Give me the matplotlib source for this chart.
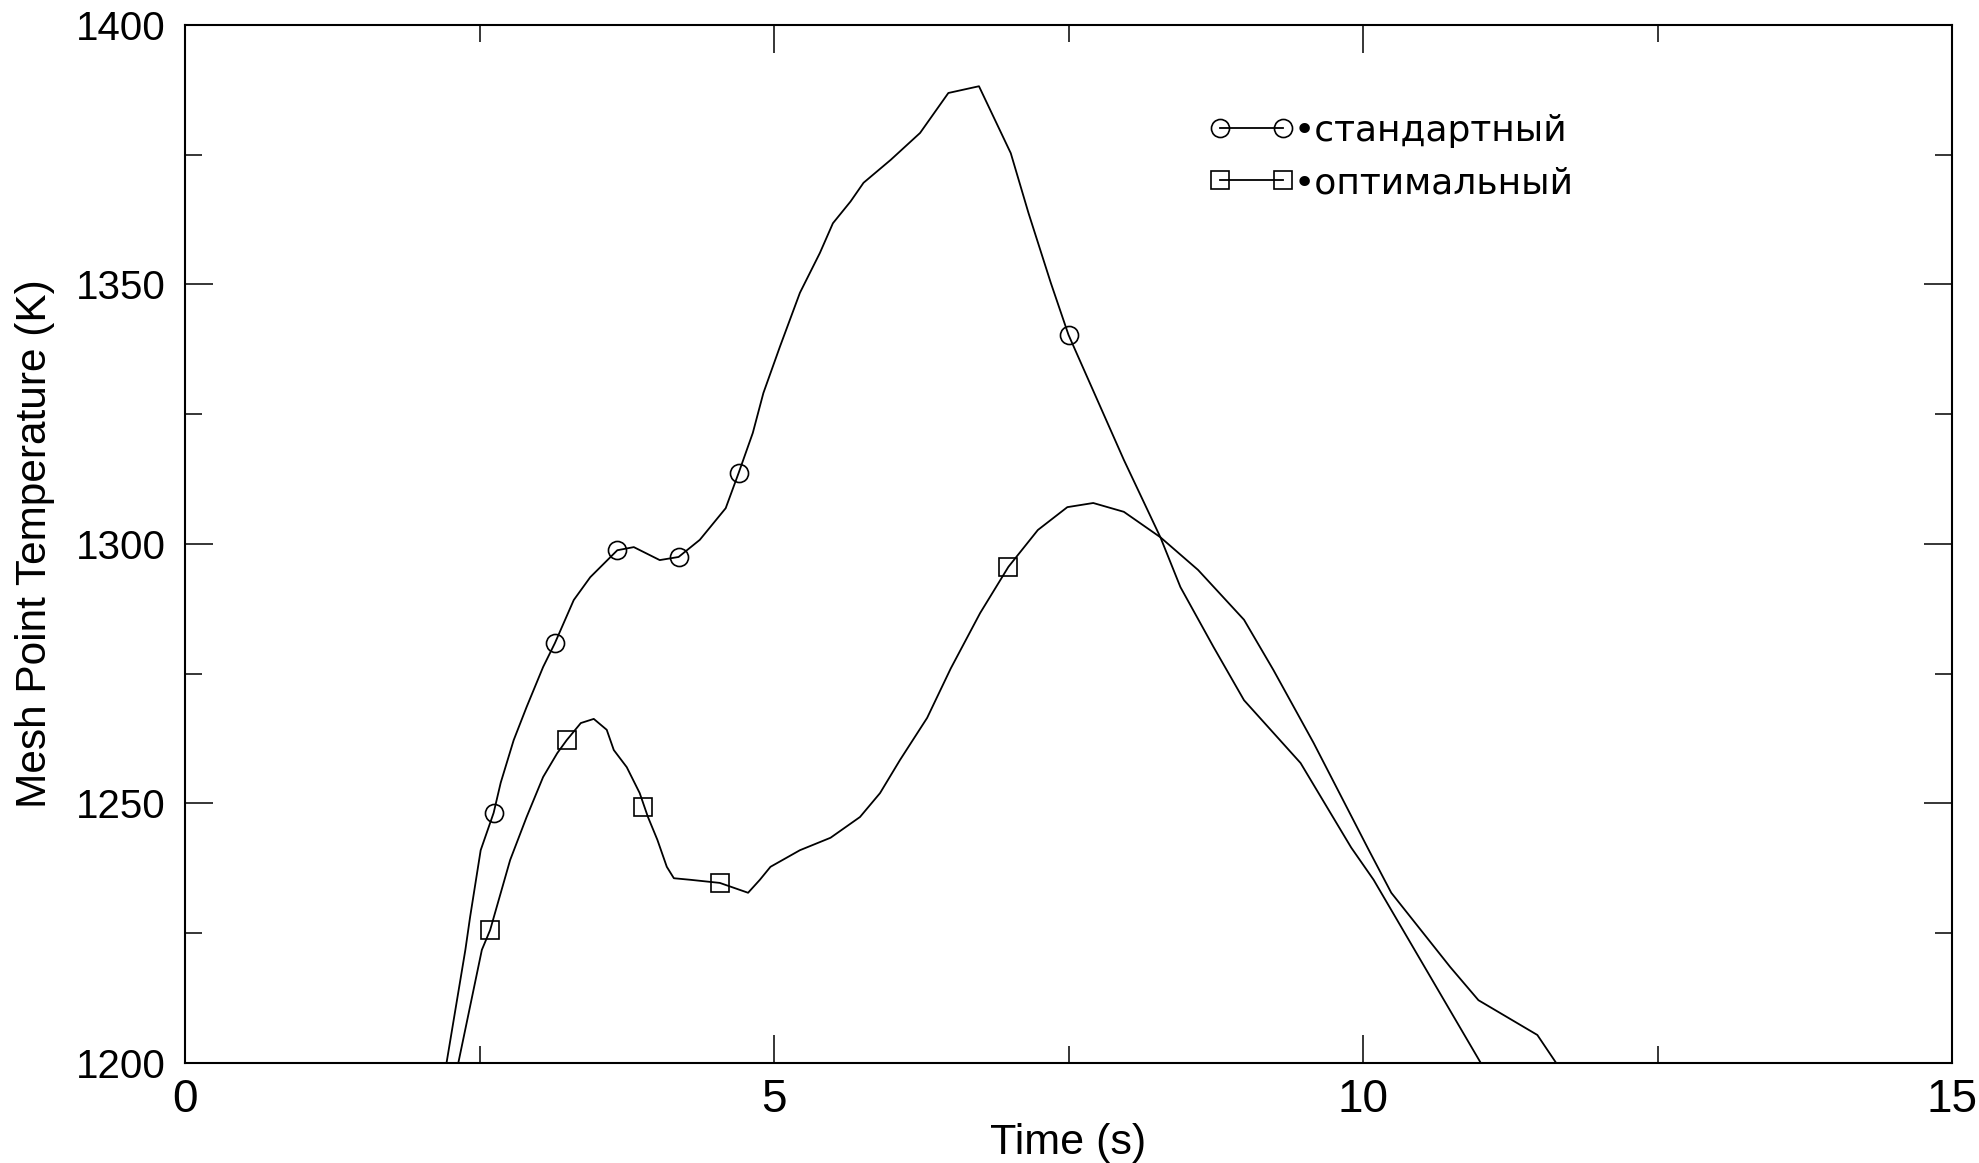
import matplotlib
matplotlib.use("Agg")
import matplotlib.pyplot as plt
from matplotlib.ticker import MultipleLocator
from matplotlib.lines import Line2D
from matplotlib import font_manager

# ---- data ----
std_x = [2.22, 2.38, 2.42, 2.51, 2.62, 2.68, 2.79, 2.90, 3.04, 3.14, 3.30, 3.44,
         3.67, 3.81, 4.03, 4.19, 4.37, 4.59, 4.70, 4.82, 4.91, 5.05, 5.22, 5.39,
         5.50, 5.65, 5.76, 5.99, 6.24, 6.48, 6.74, 7.01, 7.16, 7.35, 7.50, 7.97,
         8.28, 8.45, 8.73, 8.99, 9.47, 9.90, 10.09, 11.00]
std_y = [1200, 1221.8, 1228.1, 1241.0, 1248.2, 1254.0, 1262.2, 1268.6, 1276.3, 1280.9,
         1289.2, 1293.6, 1298.8, 1299.4, 1296.9, 1297.5, 1300.8, 1306.9, 1313.7, 1321.4,
         1329.1, 1338.0, 1348.4, 1356.1, 1361.8, 1366.0, 1369.6, 1374.0, 1379.2, 1386.9,
         1388.2, 1375.3, 1363.8, 1350.3, 1340.3, 1316.2, 1301.3, 1291.7, 1280.2, 1269.9,
         1257.8, 1241.5, 1235.3, 1200]
std_mx = [2.62, 3.14, 3.67, 4.19, 4.70, 7.50]
std_my = [1248.2, 1280.9, 1298.8, 1297.5, 1313.7, 1340.3]

opt_x = [2.32, 2.52, 2.59, 2.76, 2.90, 3.04, 3.16, 3.24, 3.36, 3.47, 3.58, 3.64,
         3.75, 3.86, 3.93, 4.01, 4.09, 4.15, 4.29, 4.54, 4.78, 4.88, 4.97, 5.22,
         5.48, 5.73, 5.90, 6.07, 6.30, 6.50, 6.75, 6.99, 7.24, 7.49, 7.71, 7.97,
         8.28, 8.60, 8.99, 9.24, 9.58, 10.05, 10.24, 10.74, 10.98, 11.48, 11.64]
opt_y = [1200, 1221.8, 1225.6, 1239.1, 1247.4, 1255.1, 1259.7, 1262.2, 1265.5, 1266.3,
         1264.2, 1260.3, 1257.0, 1252.0, 1247.4, 1243.0, 1237.8, 1235.6, 1235.3, 1234.7,
         1232.8, 1235.3, 1237.8, 1241.0, 1243.4, 1247.4, 1252.0, 1258.4, 1266.5, 1276.0,
         1286.7, 1295.6, 1302.7, 1307.1, 1307.9, 1306.2, 1301.3, 1295.0, 1285.4, 1275.7,
         1261.7, 1241.0, 1232.8, 1218.5, 1212.1, 1205.4, 1200]
opt_mx = [2.59, 3.24, 3.89, 4.54, 6.99]
opt_my = [1225.6, 1262.2, 1249.3, 1234.7, 1295.6]

x_ticks = [0, 5, 10, 15]
y_ticks = [1200, 1250, 1300, 1350, 1400]
labels = ["•стандартный", "•оптимальный"]

# ---- fonts ----
avail = {f.name for f in font_manager.fontManager.ttflist}
narrow = "Liberation Sans Narrow" if "Liberation Sans Narrow" in avail else "Liberation Sans"

fig = plt.figure(figsize=(19.79, 11.63), dpi=100)
ax = fig.add_axes([185/1979, 100/1163, (1952-185)/1979, (1063-25)/1163])

lw = 1.3
ax.plot(std_x, std_y, color="black", lw=lw, zorder=2)
ax.plot(opt_x, opt_y, color="black", lw=lw, zorder=2)
ax.plot(std_mx, std_my, ls="none", marker="o", ms=13, mfc="none", mec="black", mew=1.2, zorder=3)
ax.plot(opt_mx, opt_my, ls="none", marker="s", ms=13.5, mfc="none", mec="black", mew=1.2, zorder=3)

ax.set_xlim(0, 15)
ax.set_ylim(1200, 1400)
ax.set_xticks(x_ticks)
ax.set_yticks(y_ticks)
ax.xaxis.set_minor_locator(MultipleLocator(2.5))
ax.yaxis.set_minor_locator(MultipleLocator(25))
ax.tick_params(which="both", direction="in", top=True, right=True, width=1.1, color="black")
ax.tick_params(which="major", length=20)
ax.tick_params(which="minor", length=12)
ax.tick_params(axis="y", which="major", pad=14, labelsize=29)
ax.tick_params(axis="x", which="major", pad=11, labelsize=33)
for lab in ax.get_yticklabels():
    lab.set_fontfamily("Liberation Sans")
for lab in ax.get_xticklabels():
    lab.set_fontfamily(narrow)
for s in ax.spines.values():
    s.set_linewidth(1.5)

ax.set_xlabel("Time (s)", fontsize=31, family=narrow, va="bottom")
ax.xaxis.set_label_coords(0.5, -0.0965)
ax.set_ylabel("Mesh Point Temperature (K)", fontsize=30.5, family=narrow, labelpad=15)

h1 = Line2D([], [], color="black", lw=1.3, marker="o", ms=13, mfc="none", mec="black", mew=1.2)
h2 = Line2D([], [], color="black", lw=1.3, marker="s", ms=13.5, mfc="none", mec="black", mew=1.2)
leg = fig.legend([h1, h2], labels, loc="upper left",
                 bbox_to_anchor=(1209/1979, 1 - 114/1163), frameon=False,
                 prop={"family": "DejaVu Sans", "size": 26}, numpoints=2,
                 handlelength=2.35, handletextpad=0.0, labelspacing=0.5,
                 borderpad=0, borderaxespad=0)

fig.savefig("out.png", dpi=100)
